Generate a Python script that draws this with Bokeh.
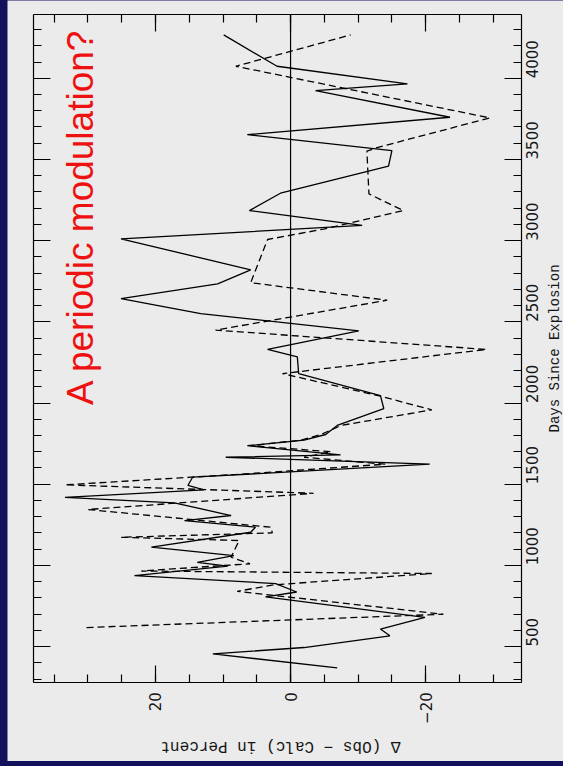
import math
from bokeh.plotting import figure
from bokeh.models import (Range1d, LinearAxis, SingleIntervalTicker, Label, Column)
from bokeh.embed import file_html
from bokeh.resources import INLINE

# Residuals of the light-curve fit, two model variants
solid_days = [368, 455, 494, 566, 608, 680, 806, 836, 888, 937, 995, 1019, 1060, 1112,
              1204, 1235, 1276, 1307, 1385, 1419, 1465, 1492, 1543, 1623, 1666, 1680,
              1737, 1771, 1806, 1862, 1966, 2045, 2181, 2284, 2330, 2444, 2551, 2643,
              2734, 2820, 3011, 3094, 3185, 3292, 3459, 3555, 3653, 3760, 3924, 3965,
              4074, 4267]
solid_pct = [-6.9, 11.5, -2.0, -14.7, -13.3, -19.9, 3.7, -0.9, 2.2, 23.1, 9.3, 13.8, 8.4, 20.6,
             5.9, 5.2, 15.7, 8.8, 17.2, 33.4, 12.8, 15.2, 14.5, -20.6, 9.6, -7.4,
             6.4, -2.0, -5.2, -6.9, -13.8, -13.3, -1.2, -1.0, 3.4, -10.1, 13.3, 25.1,
             10.8, 5.9, 25.1, -10.6, 6.1, 1.5, -14.5, -15.0, 6.4, -23.6, -3.7, -17.3,
             2.0, 9.9]

dashed_days = [617, 699, 840, 880, 950, 965, 1010, 1050, 1112, 1153, 1173, 1200, 1235,
               1344, 1444, 1496, 1560, 1623, 1666, 1700, 1737, 1771, 1806, 1862, 1958,
               2045, 2158, 2181, 2330, 2449, 2633, 2741, 3007, 3071, 3185, 3288, 3551,
               3573, 3756, 4074, 4267]
dashed_pct = [30.2, -22.6, 7.9, 2.5, -20.9, 22.1, 6.0, 8.8, 8.1, 7.6, 25.1, 2.7, 2.9,
              30.0, -3.4, 33.4, 8.0, -14.0, -2.0, -6.0, 6.0, -1.5, -4.5, -7.5, -20.9,
              -13.0, -1.2, 1.2, -29.0, 11.1, -14.3, 5.9, 3.4, -4.9, -16.7, -11.6, -11.3,
              -12.8, -29.5, 8.1, -8.9]

# plot box limits (percent runs right-to-left, days bottom-to-top)
pct_box = (38.0, -34.2)
day_box = (280, 4392)
# full drawing area, leaving room for the titles around the box
pct_view = (41.9, -40.4)
day_view = (-208, 4479)

x_title = "Δ (Obs − Calc) in Percent"
y_title = "Days Since Explosion"
note = "A periodic modulation?"

BG = "#ebebeb"
INK = "#151515"
tick_font = "DejaVu Sans"
title_font = "Liberation Mono"

p = figure(width=556, height=761, output_backend="svg", toolbar_location=None,
           x_range=Range1d(*pct_view), y_range=Range1d(*day_view),
           x_axis_location=None, y_axis_location=None,
           min_border=0, background_fill_color=BG, border_fill_color=BG)
p.margin = (0, 0, 5, 7)
p.grid.visible = False
p.outline_line_color = None


def make_axis(ticker, location, bounds, show_labels):
    ax = LinearAxis(ticker=ticker, fixed_location=location, bounds=bounds)
    ax.axis_line_color = "black"
    ax.axis_line_width = 1.2
    ax.major_tick_in = 17
    ax.major_tick_out = 0
    ax.minor_tick_in = 8
    ax.minor_tick_out = 0
    ax.major_tick_line_color = "black"
    ax.minor_tick_line_color = "black"
    ax.major_tick_line_width = 1.2
    ax.minor_tick_line_width = 1.2
    if show_labels:
        ax.major_label_standoff = 10
        ax.major_label_text_font = tick_font
        ax.major_label_text_font_size = "15px"
        ax.major_label_text_color = INK
        ax.major_label_orientation = math.pi / 2
    else:
        ax.major_label_standoff = 0
        ax.major_label_text_color = None
        ax.major_label_text_alpha = 0
    return ax


def pct_ticker():
    return SingleIntervalTicker(interval=20, num_minor_ticks=4)


def day_ticker():
    return SingleIntervalTicker(interval=500, num_minor_ticks=5)


p.add_layout(make_axis(pct_ticker(), day_box[0], (pct_box[1], pct_box[0]), True), "below")
p.add_layout(make_axis(pct_ticker(), day_box[1], (pct_box[1], pct_box[0]), False), "above")
p.add_layout(make_axis(day_ticker(), pct_box[1], day_box, True), "right")
p.add_layout(make_axis(day_ticker(), pct_box[0], day_box, False), "left")

# zero reference line across the box
p.segment(x0=[0], y0=[day_box[0]], x1=[0], y1=[day_box[1]], line_color="black", line_width=1.2)

p.line(dashed_pct, dashed_days, line_color="black", line_width=1.3, line_dash="7 4")
p.line(solid_pct, solid_days, line_color="black", line_width=1.3)

p.add_layout(Label(x=1.5, y=-110, text=x_title, angle=math.pi,
                   text_align="center", text_baseline="middle",
                   text_font=title_font, text_font_size="16px",
                   text_color=INK))
p.add_layout(Label(x=-39.2, y=2336, text=y_title, angle=math.pi / 2,
                   text_align="center", text_baseline="middle",
                   text_font=title_font, text_font_size="14px",
                   text_color=INK))

p.add_layout(Label(x=31.05, y=1988, text=note, angle=math.pi / 2,
                   text_align="left", text_baseline="alphabetic",
                   text_font="Liberation Sans", text_font_size="37px", text_color="#ee1111"))

page = Column(children=[p], styles={"background-color": "#11115c"})

open("out.html", "w").write(file_html(page, INLINE))
